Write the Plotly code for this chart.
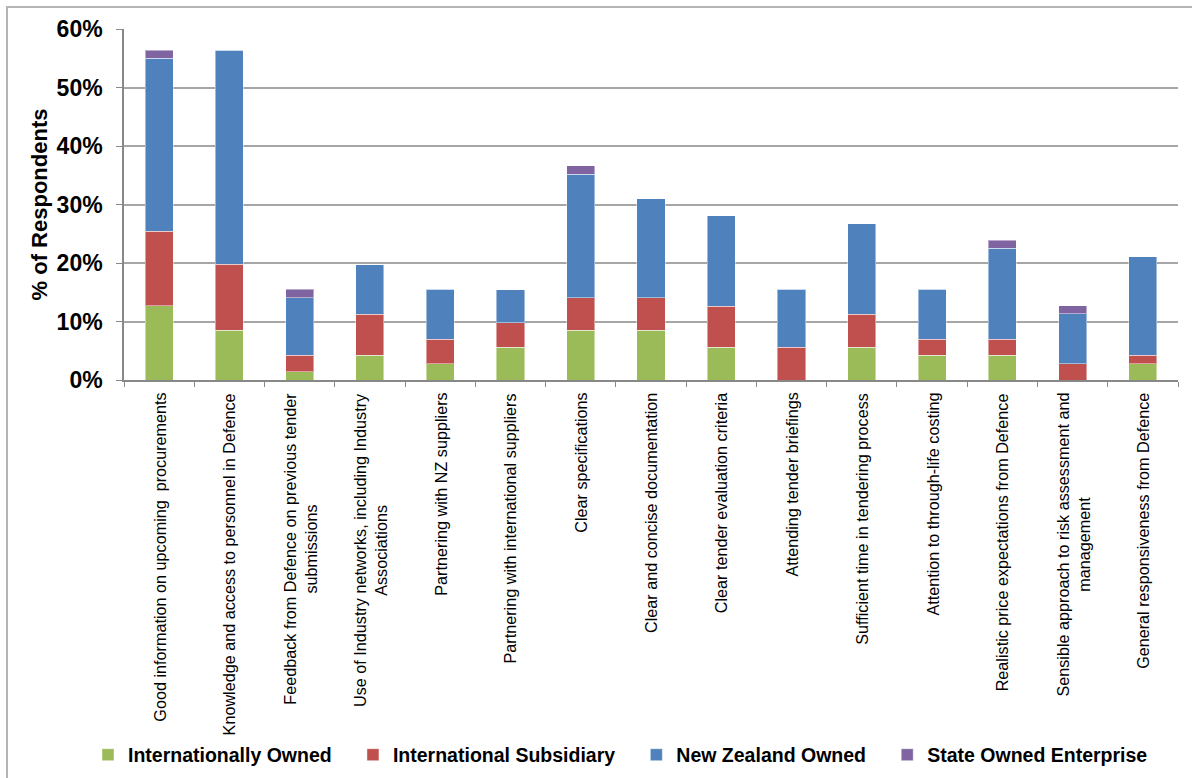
import plotly.graph_objects as go

# Survey factors (x-axis categories)
categories = [
    "Good information on upcoming  procurements",
    "Knowledge and access to personnel in Defence",
    "Feedback from Defence on previous tender<br>submissions",
    "Use of Industry networks, including Industry<br>Associations",
    "Partnering with NZ suppliers",
    "Partnering with international suppliers",
    "Clear specifications",
    "Clear and concise documentation",
    "Clear tender evaluation criteria",
    "Attending tender briefings",
    "Sufficient time in tendering process",
    "Attention to through-life costing",
    "Realistic price expectations from Defence",
    "Sensible approach to risk assessment and<br>management",
    "General responsiveness from Defence",
]

# % of respondents by ownership type
internationally_owned = [12.7, 8.5, 1.4, 4.2, 2.8, 5.6, 8.5, 8.5, 5.6, 0.0, 5.6, 4.2, 4.2, 0.0, 2.8]
international_subsidiary = [12.7, 11.3, 2.8, 7.0, 4.2, 4.2, 5.6, 5.6, 7.0, 5.6, 5.6, 2.8, 2.8, 2.8, 1.4]
new_zealand_owned = [29.6, 36.6, 9.9, 8.5, 8.5, 5.6, 21.1, 16.9, 15.5, 9.9, 15.5, 8.5, 15.5, 8.5, 16.9]
state_owned_enterprise = [1.4, 0.0, 1.4, 0.0, 0.0, 0.0, 1.4, 0.0, 0.0, 0.0, 0.0, 0.0, 1.4, 1.4, 0.0]

y_ticks = [0, 10, 20, 30, 40, 50, 60]

series = [
    ("Internationally Owned", internationally_owned, "#9BBB59"),
    ("International Subsidiary", international_subsidiary, "#C0504D"),
    ("New Zealand Owned", new_zealand_owned, "#4F81BD"),
    ("State Owned Enterprise", state_owned_enterprise, "#8064A2"),
]

FONT = "Liberation Sans, Arial, sans-serif"
PAD = "\u00a0\u00a0\u00a0"  # extra room between legend entries

fig = go.Figure()
for name, values, color in series:
    fig.add_trace(go.Bar(
        name=name + PAD,
        x=categories,
        y=values,
        marker=dict(color=color, line=dict(color="rgba(255,255,255,0.45)", width=1)),
    ))

# Rotated category labels under the axis
for cat in categories:
    fig.add_annotation(
        x=cat, xref="x", y=0, yref="paper",
        yanchor="top", xanchor="center", yshift=-11,
        text=cat, textangle=-90, showarrow=False, align="center",
        font=dict(family=FONT, size=16.2, color="#000000"),
    )

# Outer chart frame
fig.add_shape(
    type="rect", xref="paper", yref="paper",
    x0=(7 - 124) / 1054, x1=1.2, y0=-1.3, y1=(380 - 7) / 351,
    line=dict(color="#b4b4b4", width=2), fillcolor="rgba(0,0,0,0)", layer="below",
)

fig.update_layout(
    barmode="stack",
    bargap=0.6,
    width=1192, height=778,
    margin=dict(l=124, r=14, t=29, b=398, autoexpand=False),
    paper_bgcolor="white", plot_bgcolor="white",
    font=dict(family=FONT, color="#000000"),
    showlegend=True,
    legend=dict(
        orientation="h",
        x=(88 - 124) / 1054, xanchor="left",
        y=(380 - 755) / 351, yanchor="middle",
        font=dict(size=19.5, family=FONT, weight="bold"),
        traceorder="normal",
        itemclick=False, itemdoubleclick=False,
    ),
    xaxis=dict(
        type="category",
        showticklabels=False,
        tickson="boundaries",
        ticks="outside", ticklen=5, tickcolor="#888888",
        showgrid=False,
        showline=True, linecolor="#888888", linewidth=1.5,
        range=[-0.5, len(categories) - 0.5],
    ),
    yaxis=dict(
        range=[0, 60],
        tickvals=y_ticks,
        ticktext=[f"{v}%" for v in y_ticks],
        ticks="outside", ticklen=6, tickcolor="#888888",
        ticklabelstandoff=9,
        showgrid=True, gridcolor="#a6a6a6", gridwidth=1.5,
        showline=True, linecolor="#888888", linewidth=1.5,
        zeroline=False,
        tickfont=dict(size=23, family=FONT, weight="bold"),
        title=dict(
            text="% of Respondents",
            font=dict(size=22, family=FONT, weight="bold"),
            standoff=3,
        ),
    ),
)

fig.write_html("out.html")
